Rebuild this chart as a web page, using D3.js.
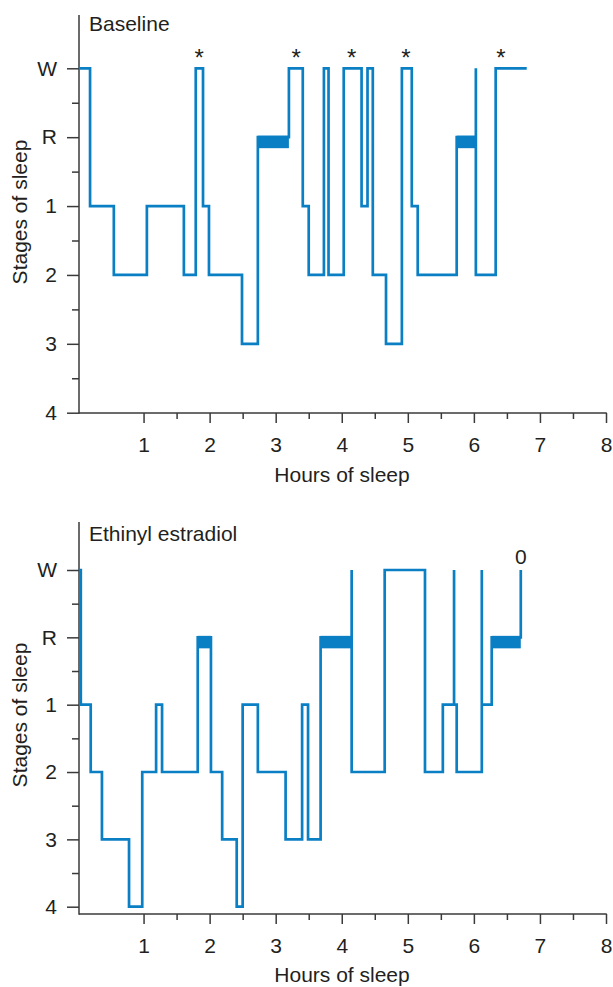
<!DOCTYPE html>
<html>
<head>
<meta charset="utf-8">
<script src="https://cdn.jsdelivr.net/npm/d3@7"></script>
<style>
  html, body { margin: 0; padding: 0; background: #fff; }
  svg { display: block; }
  text { font-family: "Liberation Sans", Arial, Helvetica, sans-serif; fill: #231f20; }
</style>
</head>
<body>
<svg id="chart" width="613" height="987"></svg>
<script>
// ---- Data ----
const stageLabels = ["W", "R", "1", "2", "3", "4"];
const xTickValues = [1, 2, 3, 4, 5, 6, 7, 8];
const xMinorTicks = [1.5, 2.5, 3.5, 4.5, 5.5, 6.5, 7.5];

// Baseline: time (h) at which each stage begins; last entry is the end point
const baselineTimes = [0.02, 0.19, 0.55, 1.05, 1.61, 1.79, 1.90, 1.99, 2.49, 2.73,
                       3.20, 3.41, 3.50, 3.73, 3.80, 4.03, 4.30, 4.39, 4.47, 4.67,
                       4.91, 5.06, 5.15, 5.74, 6.03, 6.03, 6.33, 6.80];
const baselineStages = ["W", "1", "2", "1", "2", "W", "1", "2", "3", "R",
                        "W", "1", "2", "W", "2", "W", "1", "W", "2", "3",
                        "W", "1", "2", "R", "W", "2", "W", "W"];
const baselineMarks = [1.84, 3.31, 4.15, 4.97, 6.41];   // asterisks above W

// Ethinyl estradiol
const eeTimes = [0.02, 0.05, 0.20, 0.37, 0.78, 0.98, 1.19, 1.28, 1.82, 2.02,
                 2.19, 2.41, 2.50, 2.73, 3.15, 3.40, 3.49, 3.68, 4.15, 4.15,
                 4.65, 5.26, 5.53, 5.70, 5.70, 5.74, 6.12, 6.12, 6.27, 6.71];
const eeStages = ["W", "1", "2", "3", "4", "2", "1", "2", "R", "2",
                  "3", "4", "1", "2", "3", "1", "3", "R", "W", "2",
                  "W", "2", "1", "W", "1", "2", "W", "1", "R", "W"];
const eeMarkTimes = [6.71];
const eeMarkLabels = ["0"];

// ---- Drawing ----
const svg = d3.select("#chart");
const lineColor = "#0b7fc4";
const axisColor = "#3a3a3a";
const fontSize = 21;

const x = d3.scaleLinear().domain([0, 8]).range([77.5, 606]);
const axisX = 79;

const panels = [
  { title: "Baseline", times: baselineTimes, stages: baselineStages,
    marks: baselineMarks, markLabels: baselineMarks.map(() => "*"),
    yRange: [68.3, 412.7], axisTop: 15, axisBottom: 413,
    titleY: 31, yLabelY: 212, xLabelY: 482, markY: 66, markSize: 24 },
  { title: "Ethinyl estradiol", times: eeTimes, stages: eeStages,
    marks: eeMarkTimes, markLabels: eeMarkLabels,
    yRange: [570, 906.7], axisTop: 522, axisBottom: 914,
    titleY: 541, yLabelY: 715, xLabelY: 982, markY: 564, markSize: 21 }
];

panels.forEach(p => {
  const g = svg.append("g");
  const y = d3.scaleLinear().domain([0, 5]).range(p.yRange);
  const sIdx = s => stageLabels.indexOf(s);

  // y axis (major + minor ticks)
  const yAx = g.append("g").attr("transform", `translate(${axisX},0)`)
    .call(d3.axisLeft(y).tickValues(d3.range(6)).tickSize(12).tickPadding(10)
      .tickFormat(i => stageLabels[i]));
  yAx.select(".domain").remove();
  const yMin = g.append("g").attr("transform", `translate(${axisX},0)`)
    .call(d3.axisLeft(y).tickValues([0.5, 1.5, 2.5, 3.5, 4.5]).tickSize(7).tickFormat(""));
  yMin.select(".domain").remove();

  // x axis (major + minor)
  const xAx = g.append("g").attr("transform", `translate(0,${p.axisBottom})`)
    .call(d3.axisBottom(x).tickValues(xTickValues).tickSize(10).tickFormat(d3.format("d")));
  xAx.select(".domain").remove();
  xAx.selectAll("text").attr("y", 39).attr("dy", null);
  const xMin = g.append("g").attr("transform", `translate(0,${p.axisBottom})`)
    .call(d3.axisBottom(x).tickValues(xMinorTicks).tickSize(6).tickFormat(""));
  xMin.select(".domain").remove();

  [yAx, yMin, xAx, xMin].forEach(a => {
    a.selectAll("line").attr("stroke", axisColor).attr("stroke-width", 1.5);
    a.selectAll("text").attr("font-size", fontSize)
      .attr("font-family", "Liberation Sans, Arial, sans-serif").attr("fill", "#231f20");
  });

  // axis lines
  g.append("line").attr("x1", axisX).attr("x2", axisX)
    .attr("y1", p.axisTop).attr("y2", p.axisBottom + 0.75)
    .attr("stroke", axisColor).attr("stroke-width", 1.5);
  g.append("line").attr("x1", axisX).attr("x2", x(8) + 0.75)
    .attr("y1", p.axisBottom).attr("y2", p.axisBottom)
    .attr("stroke", axisColor).attr("stroke-width", 1.5);

  // REM bands
  const rem = [];
  p.stages.forEach((s, i) => {
    if (s === "R" && i < p.times.length - 1) rem.push([p.times[i], p.times[i + 1]]);
  });
  g.selectAll("rect.rem").data(rem).enter().append("rect")
    .attr("class", "rem")
    .attr("x", d => x(d[0]))
    .attr("width", d => x(d[1]) - x(d[0]))
    .attr("y", y(1) - 1.5)
    .attr("height", 12.5)
    .attr("fill", lineColor);

  // hypnogram step line
  const pts = p.times.map((t, i) => [t, sIdx(p.stages[i])]);
  const line = d3.line().x(d => x(d[0])).y(d => y(d[1])).curve(d3.curveStepAfter);
  g.append("path").attr("d", line(pts))
    .attr("fill", "none").attr("stroke", lineColor)
    .attr("stroke-width", 2.7).attr("stroke-linejoin", "miter").attr("stroke-linecap", "butt");

  // marks above W
  g.selectAll("text.mark").data(p.marks).enter().append("text")
    .attr("class", "mark")
    .attr("x", d => x(d)).attr("y", p.markY)
    .attr("text-anchor", "middle").attr("font-size", p.markSize)
    .text((d, i) => p.markLabels[i]);

  // titles / labels
  g.append("text").attr("x", 89).attr("y", p.titleY).attr("font-size", fontSize).text(p.title);
  g.append("text").attr("x", 342).attr("y", p.xLabelY)
    .attr("text-anchor", "middle").attr("font-size", fontSize).text("Hours of sleep");
  g.append("text").attr("transform", `translate(27,${p.yLabelY}) rotate(-90)`)
    .attr("text-anchor", "middle").attr("font-size", fontSize).text("Stages of sleep");
});
</script>
</body>
</html>
